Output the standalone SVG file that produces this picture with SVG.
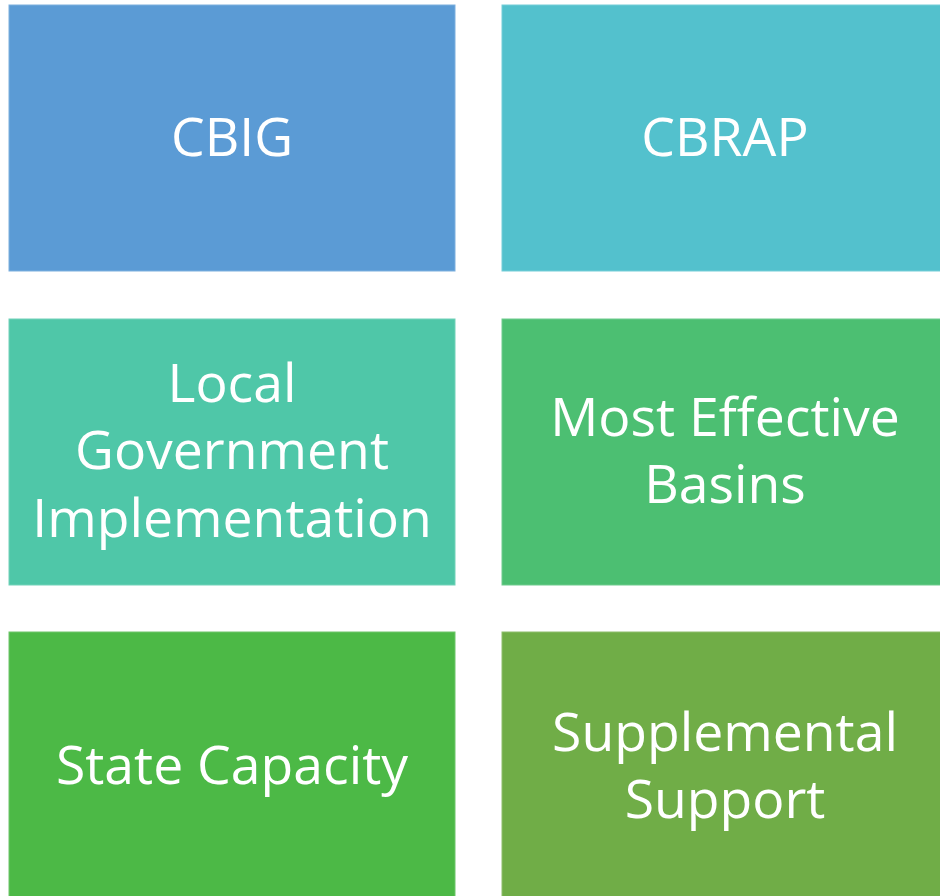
<svg xmlns="http://www.w3.org/2000/svg" width="940" height="896" viewBox="0 0 940 896">
<style>
.box{stroke-width:1;}
.t{font-family:"Open Sans","Liberation Sans",sans-serif;font-size:53.5px;fill:#ffffff;text-anchor:middle;}
</style>
<rect x="0" y="0" width="940" height="896" fill="#ffffff"/>
<g id="cbig"><rect class="box" x="9" y="5" width="446" height="266" fill="#5B9BD5" stroke="#7DAFDE"/><text class="t" x="232" y="156">CBIG</text></g>
<g id="cbrap"><rect class="box" x="502" y="5" width="446" height="266" fill="#53C1CD" stroke="#75CDD7"/><text class="t" x="725" y="156">CBRAP</text></g>
<g id="local"><rect class="box" x="9" y="319" width="446" height="266" fill="#4FC7A8" stroke="#72D2B9"/><text class="t" x="232" y="402">Local</text><text class="t" x="232" y="469">Government</text><text class="t" x="232" y="537">Implementation</text></g>
<g id="basins"><rect class="box" x="502" y="319" width="446" height="266" fill="#4CBF72" stroke="#6FCB8D"/><text class="t" x="725" y="436">Most Effective</text><text class="t" x="725" y="503">Basins</text></g>
<g id="state"><rect class="box" x="9" y="632" width="446" height="270" fill="#4CB946" stroke="#6FC66A"/><text class="t" x="232" y="784">State Capacity</text></g>
<g id="supp"><rect class="box" x="502" y="632" width="446" height="270" fill="#70AD47" stroke="#8DBE6C"/><text class="t" x="725" y="751">Supplemental</text><text class="t" x="725" y="818">Support</text></g>
<g id="connectors"></g>
</svg>
